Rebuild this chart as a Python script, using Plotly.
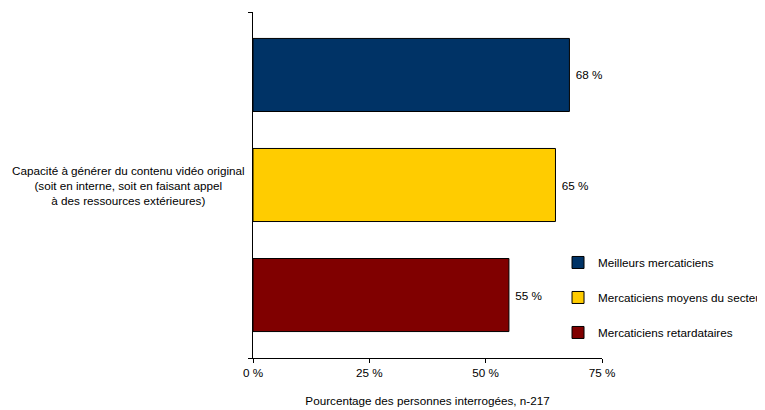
import plotly.graph_objects as go

category = "Capacité à générer du contenu vidéo original<br>(soit en interne, soit en faisant appel<br>à des ressources extérieures)"
series_names = ["Meilleurs mercaticiens", "Mercaticiens moyens du secteur", "Mercaticiens retardataires"]
series_values = [68, 65, 55]
series_colors = ["#003366", "#FFCC00", "#800000"]
tick_vals = [0, 25, 50, 75]
tick_text = ["0 %", "25 %", "50 %", "75 %"]
x_title = "Pourcentage des personnes interrogées, n-217"

font = dict(family="Liberation Sans, Arial, sans-serif", size=11.7, color="#000000")

fig = go.Figure()
series = list(zip(series_names, series_values, series_colors))
# add in reverse so the first series is drawn at the top
for rank, (name, val, col) in reversed(list(enumerate(series))):
    fig.add_trace(go.Bar(
        y=["cat"], x=[val], name=name, orientation="h",
        marker=dict(color=col, line=dict(color="#000000", width=1)),
        text=[f"\u00a0{val} %"], textposition="outside", textfont=font,
        cliponaxis=False, legendgroup=name, legendrank=rank + 1,
    ))

# page body has an 8px margin: figure is 757x402 placed at (8, 8)
fig.update_layout(
    width=757, height=402,
    margin=dict(l=245, r=163, t=4, b=52, autoexpand=False),
    paper_bgcolor="white", plot_bgcolor="white",
    barmode="group", bargap=0.046, bargroupgap=0.336,
    font=font,
    showlegend=True,
    legend=dict(x=0.874, y=0.318, xanchor="left", yanchor="top",
                traceorder="grouped", tracegroupgap=16,
                font=font, bgcolor="rgba(0,0,0,0)", itemwidth=30),
    annotations=[dict(text=category, xref="paper", yref="paper",
                      x=-0.358, y=0.5, xanchor="center", yanchor="middle",
                      align="center", showarrow=False, font=font)],
)
fig.update_xaxes(range=[0, 75], tickvals=tick_vals, ticktext=tick_text,
                 showgrid=False, zeroline=False, showline=True, linecolor="#000000",
                 linewidth=1, ticks="outside", ticklen=4, tickcolor="#000000",
                 title=dict(text=x_title, font=font, standoff=18), tickfont=font,
                 automargin=False)
fig.update_yaxes(showticklabels=False, showgrid=False, zeroline=False,
                 showline=True, linecolor="#000000", linewidth=1,
                 ticks="outside", tickson="boundaries", ticklen=4, tickcolor="#000000",
                 automargin=False)
fig.write_html("out.html")
